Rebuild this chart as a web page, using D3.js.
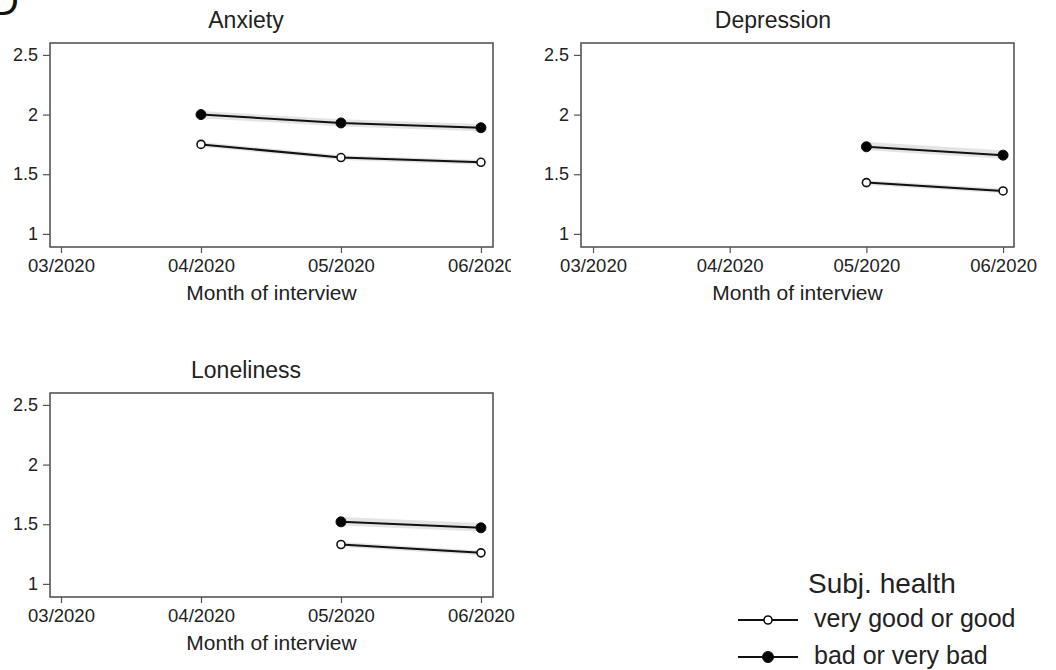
<!DOCTYPE html>
<html>
<head>
<meta charset="utf-8">
<script src="https://cdn.jsdelivr.net/npm/d3@7"></script>
<style>
  html, body { margin: 0; padding: 0; background: #fff; }
  svg { display: block; font-family: "Liberation Sans", Arial, Helvetica, sans-serif; }
</style>
</head>
<body>
<svg id="chart" width="1056" height="670"></svg>
<script>
// ---- data ----
const months = ["03/2020", "04/2020", "05/2020", "06/2020"];
const yTicks = [1, 1.5, 2, 2.5];
const panelTitles = ["Anxiety", "Depression", "Loneliness"];
const seriesNames = ["very good or good", "bad or very bad"];

// mean values per month (null = not observed)
const anxietyGood = [null, 1.75, 1.64, 1.60];
const anxietyBad = [null, 2.00, 1.93, 1.89];
const depressionGood = [null, null, 1.43, 1.36];
const depressionBad = [null, null, 1.73, 1.66];
const lonelinessGood = [null, null, 1.33, 1.26];
const lonelinessBad = [null, null, 1.52, 1.47];

// confidence bands
const anxietyGoodLo = [null, 1.73, 1.62, 1.58];
const anxietyGoodHi = [null, 1.77, 1.66, 1.62];
const anxietyBadLo = [null, 1.97, 1.90, 1.86];
const anxietyBadHi = [null, 2.03, 1.96, 1.92];
const depressionGoodLo = [null, null, 1.41, 1.34];
const depressionGoodHi = [null, null, 1.45, 1.38];
const depressionBadLo = [null, null, 1.70, 1.63];
const depressionBadHi = [null, null, 1.77, 1.70];
const lonelinessGoodLo = [null, null, 1.31, 1.24];
const lonelinessGoodHi = [null, null, 1.35, 1.28];
const lonelinessBadLo = [null, null, 1.49, 1.44];
const lonelinessBadHi = [null, null, 1.56, 1.51];

// ---- layout ----
const panels = [
  { title: panelTitles[0], good: anxietyGood, bad: anxietyBad,
    goodLo: anxietyGoodLo, goodHi: anxietyGoodHi, badLo: anxietyBadLo, badHi: anxietyBadHi,
    box: { x0: 50, x1: 493, y0: 43, y1: 247 }, xDom: [-0.0786, 3.086], titleX: 246, clipW: 511 },
  { title: panelTitles[1], good: depressionGood, bad: depressionBad,
    goodLo: depressionGoodLo, goodHi: depressionGoodHi, badLo: depressionBadLo, badHi: depressionBadHi,
    box: { x0: 581, x1: 1014, y0: 43, y1: 247 }, xDom: [-0.088, 3.08], titleX: 773, clipW: null },
  { title: panelTitles[2], good: lonelinessGood, bad: lonelinessBad,
    goodLo: lonelinessGoodLo, goodHi: lonelinessGoodHi, badLo: lonelinessBadLo, badHi: lonelinessBadHi,
    box: { x0: 50, x1: 493, y0: 393, y1: 597 }, xDom: [-0.0786, 3.086], titleX: 246, clipW: null }
];

const svg = d3.select("#chart");
const textColor = "#222";
const axisColor = "#555";

// cropped panel letter at top-left (cropped in the source figure as well)
svg.append("text").attr("x", -10).attr("y", 15)
  .attr("font-size", 40).attr("fill", "#111").text("D");

const defs = svg.append("defs");

panels.forEach((p, pi) => {
  const b = p.box;
  let g = svg.append("g");
  if (p.clipW) {
    defs.append("clipPath").attr("id", "clip" + pi)
      .append("rect").attr("x", 0).attr("y", 0).attr("width", p.clipW).attr("height", 320);
    g.attr("clip-path", "url(#clip" + pi + ")");
  }
  const x = d3.scaleLinear().domain(p.xDom).range([b.x0, b.x1]);
  const y = d3.scaleLinear().domain([0.89, 2.6]).range([b.y1, b.y0]);

  // title
  g.append("text").attr("x", p.titleX).attr("y", b.y0 - 15)
    .attr("text-anchor", "middle").attr("font-size", 23).attr("fill", textColor)
    .text(p.title);

  // plot box
  g.append("rect").attr("x", b.x0).attr("y", b.y0)
    .attr("width", b.x1 - b.x0).attr("height", b.y1 - b.y0)
    .attr("fill", "none").attr("stroke", axisColor).attr("stroke-width", 1.6);

  // y axis
  const yAxis = d3.axisLeft(y).tickValues(yTicks).tickSize(7).tickPadding(5)
    .tickFormat(d3.format("~g"));
  const ya = g.append("g").attr("transform", `translate(${b.x0},0)`).call(yAxis);
  ya.select(".domain").remove();
  ya.selectAll("line").attr("stroke", axisColor).attr("stroke-width", 1.2);
  ya.selectAll("text").attr("font-size", 18).attr("fill", textColor)
    .attr("font-family", "Liberation Sans, Arial, sans-serif");

  // x axis
  const xAxis = d3.axisBottom(x).tickValues(d3.range(months.length)).tickSize(6).tickPadding(6)
    .tickFormat(i => months[i]);
  const xa = g.append("g").attr("transform", `translate(0,${b.y1})`).call(xAxis);
  xa.select(".domain").remove();
  xa.selectAll("line").attr("stroke", axisColor).attr("stroke-width", 1.2);
  xa.selectAll("text").attr("font-size", 18.5).attr("fill", textColor)
    .attr("font-family", "Liberation Sans, Arial, sans-serif");

  // x axis title
  g.append("text").attr("x", (b.x0 + b.x1) / 2).attr("y", b.y1 + 53)
    .attr("text-anchor", "middle").attr("font-size", 21).attr("fill", textColor)
    .text("Month of interview");

  const series = [
    { vals: p.good, lo: p.goodLo, hi: p.goodHi, filled: false },
    { vals: p.bad, lo: p.badLo, hi: p.badHi, filled: true }
  ];

  series.forEach(s => {
    const pts = s.vals.map((v, i) => ({ i, v, lo: s.lo[i], hi: s.hi[i] })).filter(d => d.v !== null);
    // CI band
    const area = d3.area().x(d => x(d.i)).y0(d => y(d.lo)).y1(d => y(d.hi));
    g.append("path").datum(pts).attr("d", area)
      .attr("fill", "#d9d9d9").attr("fill-opacity", 0.7);
    // line
    const line = d3.line().x(d => x(d.i)).y(d => y(d.v));
    g.append("path").datum(pts).attr("d", line)
      .attr("fill", "none").attr("stroke", "#111").attr("stroke-width", 2);
    // markers
    g.selectAll(null).data(pts).enter().append("circle")
      .attr("cx", d => x(d.i)).attr("cy", d => y(d.v))
      .attr("r", s.filled ? 5 : 4)
      .attr("fill", s.filled ? "#000" : "#fff")
      .attr("stroke", "#111").attr("stroke-width", s.filled ? 1 : 1.6);
  });
});

// ---- legend ----
const lg = svg.append("g");
lg.append("text").attr("x", 882).attr("y", 593).attr("text-anchor", "middle")
  .attr("font-size", 28).attr("fill", textColor).text("Subj. health");
const legendRows = [627, 664];
seriesNames.forEach((name, i) => {
  const yl = legendRows[i] - 7;
  lg.append("line").attr("x1", 738).attr("x2", 798).attr("y1", yl).attr("y2", yl)
    .attr("stroke", "#111").attr("stroke-width", 2);
  lg.append("circle").attr("cx", 768).attr("cy", yl).attr("r", i === 1 ? 5.5 : 4)
    .attr("fill", i === 1 ? "#000" : "#fff").attr("stroke", "#111").attr("stroke-width", i === 1 ? 1 : 1.6);
  lg.append("text").attr("x", 814).attr("y", legendRows[i])
    .attr("font-size", 25).attr("fill", textColor).text(name);
});
</script>
</body>
</html>
